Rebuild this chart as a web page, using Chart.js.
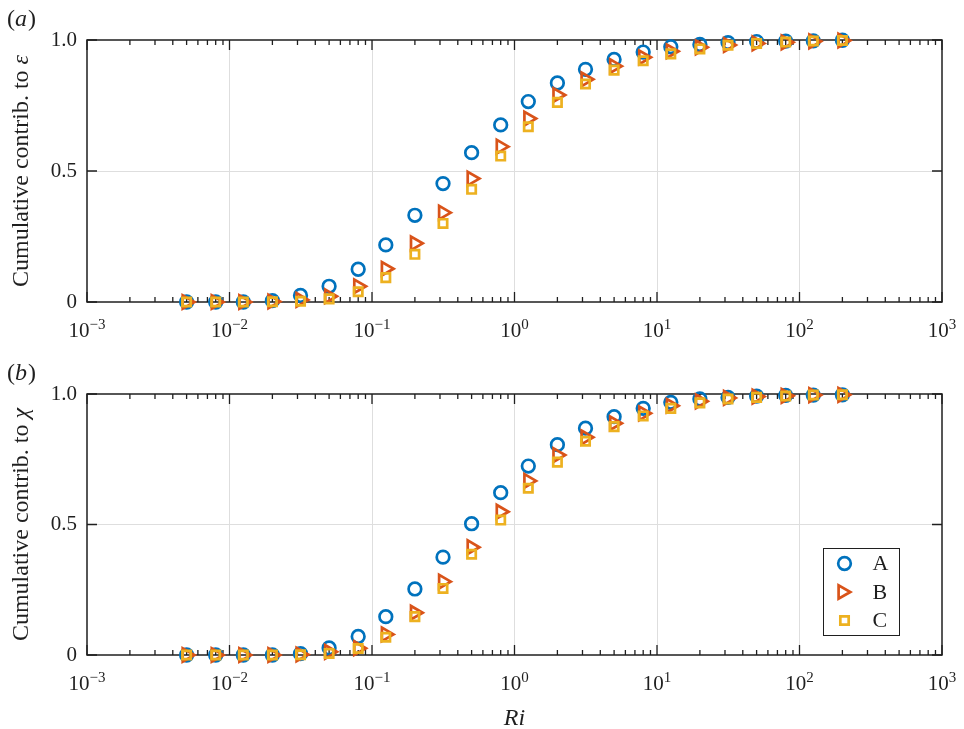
<!DOCTYPE html>
<html>
<head>
<meta charset="utf-8">
<script src="https://cdn.jsdelivr.net/npm/chart.js@4/dist/chart.umd.min.js"></script>
<style>
  html, body { margin: 0; padding: 0; background: #fff; }
  #wrap { position: relative; width: 964px; height: 729px; }
  canvas { position: absolute; left: 0; }
  #panelA { top: 0; }
  #panelB { top: 354px; }
</style>
</head>
<body>
<div id="wrap">
  <canvas id="panelA" width="964" height="354"></canvas>
  <canvas id="panelB" width="964" height="375"></canvas>
</div>
<script>
// Ri bins (x), shared by both panels
const riValues = [0.005, 0.008, 0.0125, 0.02, 0.0315, 0.05, 0.08, 0.125, 0.2, 0.315, 0.5, 0.8,
                  1.25, 2, 3.15, 5, 8, 12.5, 20, 31.5, 50, 80, 125, 200];

// (a) cumulative contribution to epsilon
const epsA = [0, 0, 0, 0.005, 0.025, 0.06, 0.125, 0.218, 0.331, 0.452, 0.570, 0.676,
              0.765, 0.836, 0.888, 0.926, 0.954, 0.974, 0.983, 0.990, 0.994, 0.996, 0.997, 0.999];
const epsB = [0, 0, 0, 0.002, 0.008, 0.022, 0.060, 0.127, 0.224, 0.341, 0.471, 0.593,
              0.700, 0.790, 0.850, 0.900, 0.934, 0.957, 0.972, 0.981, 0.987, 0.991, 0.995, 0.998];
const epsC = [0, 0, 0, 0.001, 0.003, 0.012, 0.039, 0.093, 0.182, 0.300, 0.430, 0.557,
              0.669, 0.762, 0.832, 0.885, 0.921, 0.947, 0.966, 0.980, 0.987, 0.992, 0.996, 0.998];

// (b) cumulative contribution to chi
const chiA = [0, 0, 0, 0, 0.005, 0.027, 0.071, 0.147, 0.253, 0.375, 0.503, 0.622,
              0.724, 0.806, 0.869, 0.913, 0.945, 0.968, 0.981, 0.987, 0.992, 0.995, 0.996, 0.997];
const chiB = [0, 0, 0, 0, 0.002, 0.012, 0.026, 0.079, 0.162, 0.281, 0.413, 0.549,
              0.667, 0.766, 0.834, 0.888, 0.926, 0.955, 0.972, 0.985, 0.990, 0.993, 0.996, 0.997];
const chiC = [0, 0, 0, 0, 0.001, 0.006, 0.025, 0.068, 0.147, 0.255, 0.386, 0.517,
              0.639, 0.739, 0.819, 0.875, 0.916, 0.945, 0.966, 0.981, 0.987, 0.992, 0.996, 0.997];

const seriesNames = ['A', 'B', 'C'];
const xExps = [-3, -2, -1, 0, 1, 2, 3];
const yTicks = [0, 0.5, 1];
const minorMults = [2, 3, 4, 5, 6, 7, 8, 9];

const FONT = '"Liberation Serif", "Times New Roman", serif';
const AX = '#1f1f1f';

const markerStyles = [
  { pointStyle: 'circle', radius: 6.3, rotation: 0, color: '#0072BD' },
  { pointStyle: 'triangle', radius: 7.8, rotation: 90, color: '#D95319' },
  { pointStyle: 'rect', radius: 5.9, rotation: 0, color: '#EDB120' }
];

// box + inward ticks, under the markers
const boxPlugin = {
  id: 'box',
  beforeDatasetsDraw(chart) {
    const { ctx, chartArea: a, scales: { x, y } } = chart;
    ctx.save();
    ctx.strokeStyle = AX;
    ctx.lineWidth = 1.3;
    ctx.beginPath();
    xExps.forEach(e => {
      const px = x.getPixelForValue(Math.pow(10, e));
      ctx.moveTo(px, a.bottom); ctx.lineTo(px, a.bottom - 10);
      ctx.moveTo(px, a.top); ctx.lineTo(px, a.top + 10);
      if (e < 3) {
        minorMults.forEach(m => {
          const mx = x.getPixelForValue(m * Math.pow(10, e));
          ctx.moveTo(mx, a.bottom); ctx.lineTo(mx, a.bottom - 5);
          ctx.moveTo(mx, a.top); ctx.lineTo(mx, a.top + 5);
        });
      }
    });
    yTicks.forEach(v => {
      const py = y.getPixelForValue(v);
      ctx.moveTo(a.left, py); ctx.lineTo(a.left + 10, py);
      ctx.moveTo(a.right, py); ctx.lineTo(a.right - 10, py);
    });
    ctx.stroke();
    ctx.lineWidth = 1.5;
    ctx.strokeRect(a.left, a.top, a.right - a.left, a.bottom - a.top);
    ctx.restore();
  }
};

// 10^n tick labels, y title with italic symbol, panel tag
const textPlugin = {
  id: 'texts',
  afterDraw(chart, args, opts) {
    const { ctx, chartArea: a, scales: { x } } = chart;
    ctx.save();
    ctx.fillStyle = AX;
    ctx.textBaseline = 'alphabetic';
    ctx.textAlign = 'left';
    xExps.forEach(e => {
      const px = x.getPixelForValue(Math.pow(10, e));
      const exp = e < 0 ? '\u2212' + (-e) : String(e);
      ctx.font = '21px ' + FONT;
      const w1 = ctx.measureText('10').width;
      ctx.font = '15px ' + FONT;
      const w2 = ctx.measureText(exp).width;
      const x0 = px - (w1 + w2) / 2;
      ctx.font = '21px ' + FONT;
      ctx.fillText('10', x0, a.bottom + 35);
      ctx.font = '15px ' + FONT;
      ctx.fillText(exp, x0 + w1, a.bottom + 27);
    });

    // y title: upright text + italic symbol, rotated
    const cy = (a.top + a.bottom) / 2;
    ctx.translate(28, cy);
    ctx.rotate(-Math.PI / 2);
    ctx.font = '24px ' + FONT;
    const t1 = 'Cumulative contrib. to ';
    const wt1 = ctx.measureText(t1).width;
    ctx.font = 'italic 24px ' + FONT;
    const wt2 = ctx.measureText(opts.symbol).width;
    const sx = -(wt1 + wt2) / 2;
    ctx.font = '24px ' + FONT;
    ctx.fillText(t1, sx, 0);
    ctx.font = 'italic 24px ' + FONT;
    ctx.fillText(opts.symbol, sx + wt1, 0);
    ctx.setTransform(1, 0, 0, 1, 0, 0);

    // panel tag "(a)"
    ctx.font = '24px ' + FONT;
    const wp = ctx.measureText('(').width;
    ctx.fillText('(', 7, opts.tagY);
    ctx.font = 'italic 24px ' + FONT;
    const wl = ctx.measureText(opts.tag).width;
    ctx.fillText(opts.tag, 7 + wp, opts.tagY);
    ctx.font = '24px ' + FONT;
    ctx.fillText(')', 7 + wp + wl + 1, opts.tagY);

    if (opts.xTitle) {
      ctx.font = 'italic 24px ' + FONT;
      ctx.textAlign = 'center';
      ctx.fillText(opts.xTitle, (a.left + a.right) / 2, a.bottom + 70);
    }
    ctx.restore();
  }
};

// legend box inside panel (b)
const legendPlugin = {
  id: 'boxLegend',
  afterDraw(chart, args, opts) {
    if (!opts.show) return;
    const { ctx } = chart;
    const bx = 823.5, by = 548.5 - 354, bw = 76, bh = 87;
    ctx.save();
    ctx.fillStyle = '#fff';
    ctx.fillRect(bx, by, bw, bh);
    ctx.strokeStyle = AX;
    ctx.lineWidth = 1;
    ctx.strokeRect(bx, by, bw, bh);
    seriesNames.forEach((name, i) => {
      const m = markerStyles[i];
      const yy = by + 15 + i * 28.5;
      ctx.strokeStyle = m.color;
      ctx.fillStyle = 'rgba(0,0,0,0)';
      ctx.lineWidth = 2.7;
      Chart.helpers.drawPoint(ctx, { pointStyle: m.pointStyle, radius: m.radius, rotation: m.rotation, borderWidth: 2.7 },
        bx + 21 + (i === 1 ? -2 : 0), yy);
      ctx.fillStyle = AX;
      ctx.font = '22px ' + FONT;
      ctx.textBaseline = 'middle';
      ctx.textAlign = 'left';
      ctx.fillText(name, bx + 49, yy + 1);
    });
    ctx.restore();
  }
};

function makePanel(canvasId, values, opts) {
  const datasets = values.map((vals, i) => {
    const m = markerStyles[i];
    return {
      label: seriesNames[i],
      data: riValues.map((r, j) => ({ x: r, y: vals[j] })),
      pointStyle: m.pointStyle,
      pointRadius: m.radius,
      pointRotation: m.rotation,
      borderColor: m.color,
      backgroundColor: 'rgba(0,0,0,0)',
      pointBorderWidth: 2.7,
      showLine: false,
      clip: false,
      order: 2 - i
    };
  });

  return new Chart(document.getElementById(canvasId), {
    type: 'scatter',
    data: { datasets },
    options: {
      responsive: false,
      animation: false,
      devicePixelRatio: 1,
      events: [],
      layout: { padding: { top: 40, right: 22, left: 0, bottom: 0 } },
      scales: {
        x: {
          type: 'logarithmic',
          min: 1e-3,
          max: 1e3,
          afterBuildTicks: s => { s.ticks = xExps.map(e => ({ value: Math.pow(10, e), major: true })); },
          afterFit: s => { s.height = opts.xHeight; },
          ticks: { display: false },
          border: { display: false },
          grid: {
            drawTicks: false,
            lineWidth: 1,
            color: c => (c.tick && (c.tick.value === 1e-3 || c.tick.value === 1e3)) ? 'rgba(0,0,0,0)' : '#dedede'
          }
        },
        y: {
          type: 'linear',
          min: 0,
          max: 1,
          afterBuildTicks: s => { s.ticks = yTicks.map(v => ({ value: v })); },
          afterFit: s => { s.width = 87; },
          border: { display: false },
          ticks: {
            padding: 10,
            color: AX,
            font: { family: FONT, size: 21 },
            callback: v => v === 0 ? '0' : v.toFixed(1)
          },
          grid: {
            drawTicks: false,
            lineWidth: 1,
            color: c => (c.tick && c.tick.value === 0.5) ? '#dedede' : 'rgba(0,0,0,0)'
          }
        }
      },
      plugins: {
        legend: { display: false },
        tooltip: { enabled: false },
        texts: { symbol: opts.symbol, tag: opts.tag, tagY: opts.tagY, xTitle: opts.xTitle },
        boxLegend: { show: opts.legend }
      }
    },
    plugins: [boxPlugin, textPlugin, legendPlugin]
  });
}

makePanel('panelA', [epsA, epsB, epsC], { symbol: '\u03B5', tag: 'a', tagY: 26, xHeight: 52, legend: false });
makePanel('panelB', [chiA, chiB, chiC], { symbol: '\u03C7', tag: 'b', tagY: 26, xHeight: 74, xTitle: 'Ri', legend: true });
</script>
</body>
</html>
